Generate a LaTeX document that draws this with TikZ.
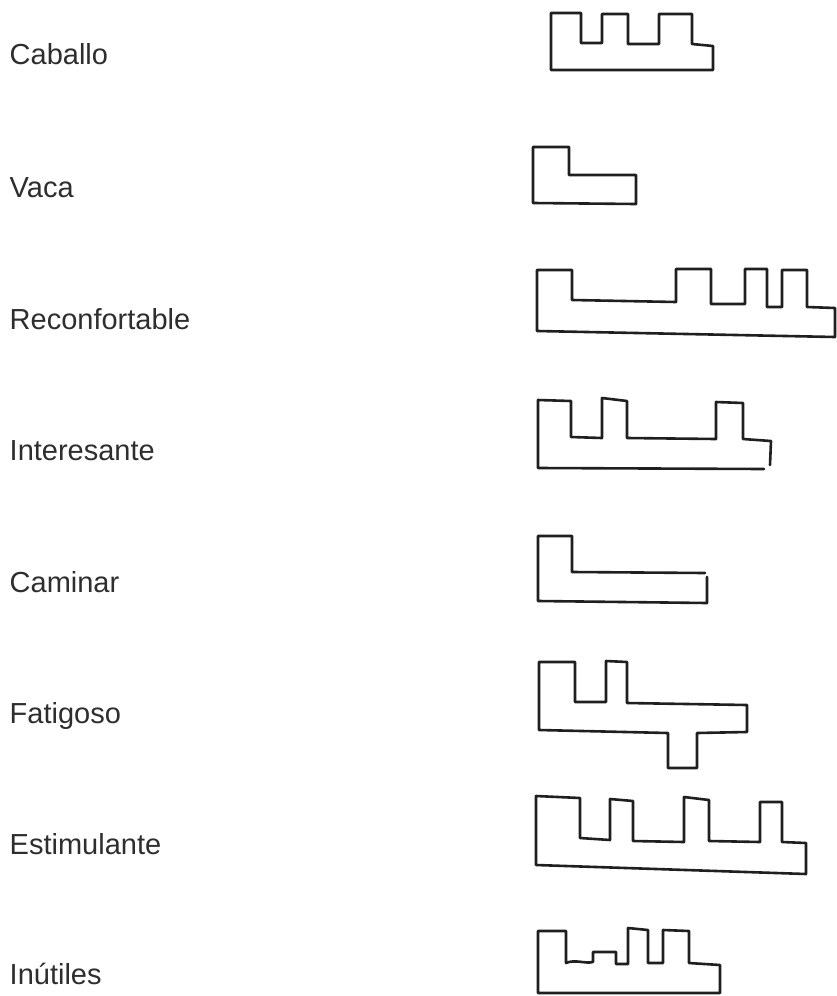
\documentclass[tikz,border=0pt]{standalone}
\usepackage{fontspec}
\setmainfont{Liberation Sans}
\begin{document}
\begin{tikzpicture}[x=1pt,y=-1pt,
  lbl/.style={anchor=base west,inner sep=0pt,text=black!82,font=\fontsize{29}{34}\selectfont},
  glyph/.style={draw=black!88,line width=2.6pt,line join=round,line cap=round}]
\useasboundingbox[fill=white] (0,0) rectangle (837,996);
% labels
\node[lbl] (caballo) at (9.5,64) {Caballo};
\node[lbl] (vaca) at (9.5,197) {Vaca};
\node[lbl] (reconf) at (9.5,329) {Reconfortable};
\node[lbl] (inter) at (9.5,460) {Interesante};
\node[lbl] (caminar) at (9.5,592) {Caminar};
\node[lbl] (fatig) at (9.5,723) {Fatigoso};
\node[lbl] (estim) at (9.5,854) {Estimulante};
\node[lbl] (inut) at (9.5,984) {Inútiles};
% Caballo
\draw[glyph] (551,70) -- (551,13) -- (581,13) -- (581,43) -- (602,43) -- (602,14) -- (628,14) -- (628,44) -- (659,44) -- (659,14) -- (692,14) -- (692,44) -- (713,46) -- (713,70) -- cycle;
% Vaca
\draw[glyph] (533,203) -- (533,147) -- (569,147) -- (569,175) -- (636,175) -- (636,204) -- cycle;
% Reconfortable
\draw[glyph] (537,331) -- (537,270) -- (572,270) -- (572,300) -- (676,302) -- (676,269) -- (711,269) -- (711,304) -- (745,304) -- (745,269) -- (767,269) -- (767,307) -- (782,307) -- (782,270) -- (807,270) -- (807,307) -- (835,308) -- (835,337) -- cycle;
% Interesante
\draw[glyph] (764,469) -- (538,468) -- (538,400) -- (571,401) -- (571,437) -- (602,438) -- (602,398) -- (627,401) -- (627,438) -- (716,439) -- (716,402) -- (743,403) -- (743,439) -- (771,441) -- (770,465);
% Caminar
\draw[glyph] (705,573) -- (572,572) -- (572,536) -- (538,536) -- (538,601) -- (707,603) -- (707,577);
% Fatigoso
\draw[glyph] (539,730) -- (539,662) -- (575,662) -- (575,702) -- (606,702) -- (606,661) -- (627,662) -- (627,703) -- (747,705) -- (747,732) -- (697,733) -- (697,768) -- (668,768) -- (668,733) -- cycle;
% Estimulante
\draw[glyph] (536,865) -- (536,796) -- (580,798) -- (580,838) -- (610,840) -- (610,799) -- (633,801) -- (633,841) -- (684,842) -- (684,797) -- (709,800) -- (709,841) -- (760,842) -- (760,802) -- (782,802) -- (782,842) -- (806,843) -- (806,874) -- cycle;
% Inutiles
\draw[glyph] (538,993) -- (538,931) -- (566,931) -- (566,963) .. controls (575,959) and (585,964) .. (593,962) -- (593,952) -- (616,952) -- (616,964) -- (628,964) -- (628,928) -- (648,930) -- (648,963) -- (663,963) -- (663,930) -- (689,931) -- (689,963) -- (720,965) -- (720,993) -- cycle;
\end{tikzpicture}
\end{document}
